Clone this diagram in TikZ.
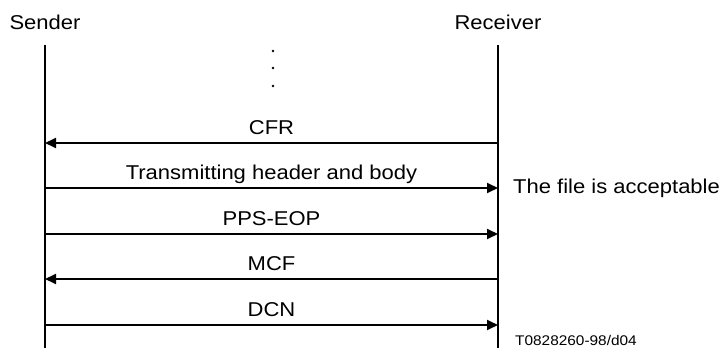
\documentclass[tikz,border=0pt]{standalone}
\usepackage{fontspec}
\setmainfont[FakeStretch=1.1]{Liberation Sans}
\usepackage{tikz}
\usetikzlibrary{arrows.meta,positioning}

\begin{document}
\begin{tikzpicture}[
	x=1pt, y=-1pt,
	font=\fontsize{20}{23}\selectfont,
		lifeline/.style={
			draw,
			line width=1.7pt
		},
		msg/.style={
			line width=1.8pt,
			-{Triangle[length=11pt,width=10pt]}
		},
		msglabel/.style={
			midway,
			anchor=base,
			yshift=9pt,
			inner sep=0pt
		},
		party/.style={
			inner sep=0pt
		},
		note/.style={
			inner sep=0pt
		},
		tag/.style={
			inner sep=0pt,
			font=\fontsize{14}{16}\selectfont
		}
	]
	\useasboundingbox (0,0) rectangle (720,348);
	% Parties
	\node[party] (sender) at (45,22) {Sender};
	\node[party] (receiver) at (498,22) {Receiver};
	% Lifelines
	\coordinate (s_top) at (45,45);
	\coordinate (s_bot) at (45,348);
	\coordinate (r_top) at (498,45);
	\coordinate (r_bot) at (498,348);
	\draw[lifeline] (s_top) -- (s_bot);
	\draw[lifeline] (r_top) -- (r_bot);
	% Omitted earlier exchange
	\fill (273,51) circle (1.3);
	\fill (273,68) circle (1.3);
	\fill (273,86) circle (1.3);
	% Message points on the lifelines
	\coordinate (s1) at (45,143);  \coordinate (r1) at (498,143);
	\coordinate (s2) at (45,188);  \coordinate (r2) at (498,188);
	\coordinate (s3) at (45,234);  \coordinate (r3) at (498,234);
	\coordinate (s4) at (45,279);  \coordinate (r4) at (498,279);
	\coordinate (s5) at (45,325);  \coordinate (r5) at (498,325);
	% Messages
	\draw[msg] (r1) -- node[msglabel] {CFR} (s1);
	\draw[msg] (s2) -- node[msglabel] {Transmitting header and body} (r2);
	\draw[msg] (s3) -- node[msglabel] {PPS-EOP} (r3);
	\draw[msg] (r4) -- node[msglabel] {MCF} (s4);
	\draw[msg] (s5) -- node[msglabel] {DCN} (r5);
	% Notes
	\node[note, anchor=base west] (accept) at ([xshift=15pt,yshift=-5pt]r2) {The file is acceptable};
	\node[tag, anchor=base west] (figref) at (515,345) {T0828260-98/d04};
\end{tikzpicture}
\end{document}
